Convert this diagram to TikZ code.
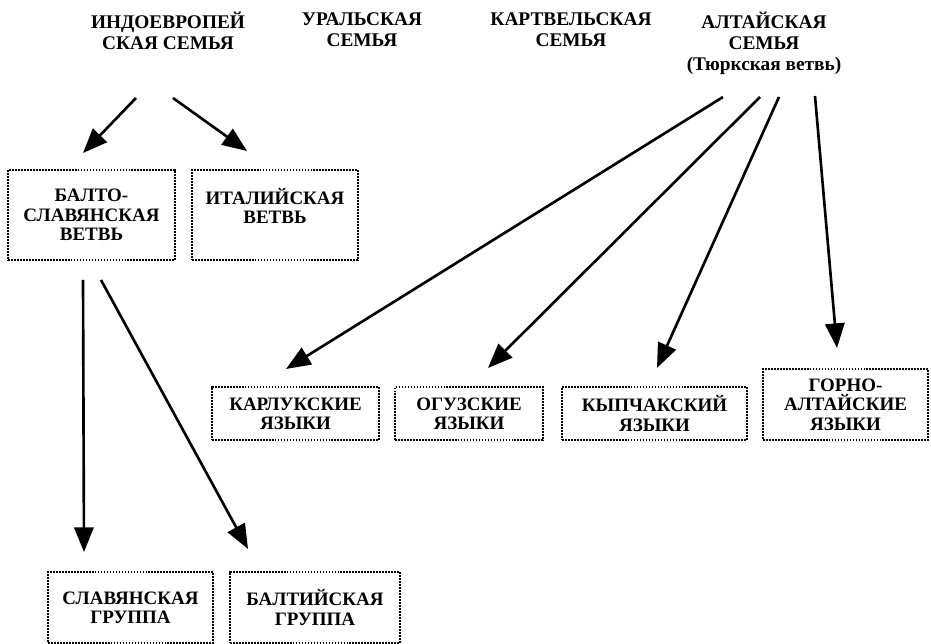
\documentclass[tikz,border=0pt]{standalone}
\usepackage{fontspec}
\setmainfont{Liberation Serif}
\usetikzlibrary{positioning, arrows.meta, calc}

\begin{document}
\begin{tikzpicture}[
    x=0.02cm, y=-0.02cm,    % 1 единица = 1 пиксель, ось y вниз
    line width=1.5pt,       % толстые стрелки
    >={Triangle[length=14pt, width=11pt]},
    family/.style={align=center, inner sep=0pt, anchor=north,
        font=\bfseries\fontsize{11}{12}\selectfont},
    box/.style={draw, line width=0.7pt, dash pattern=on 1pt off 0.7pt,
        align=center, inner sep=0pt,
        font=\bfseries\fontsize{10.8}{11}\selectfont}
]
    \useasboundingbox (0, 0) rectangle (931, 644);

    % --- 1. Языковые семьи (верхняя строка) ---
    \node [family] (ie) at (168, 11) {ИНДОЕВРОПЕЙ\\СКАЯ СЕМЬЯ};
    \node [family] (ural) at (362, 11) {УРАЛЬСКАЯ\\СЕМЬЯ};
    \node [family] (kartv) at (571, 11) {КАРТВЕЛЬСКАЯ\\СЕМЬЯ};
    \node [family] (altai) at (764, 11) {АЛТАЙСКАЯ\\СЕМЬЯ\\(Тюркская ветвь)};

    % --- 2. Ветви индоевропейской семьи ---
    \node [box, minimum width=3.34cm, minimum height=1.8cm] (bslav) at (91.5, 215)
        {БАЛТО-\\СЛАВЯНСКАЯ\\ВЕТВЬ};
    \node [box, minimum width=3.32cm, minimum height=1.8cm, text depth=0.36cm] (ital) at (275, 215)
        {ИТАЛИЙСКАЯ\\ВЕТВЬ};

    % --- 3. Группы тюркских языков ---
    \node [box, minimum width=3.34cm, minimum height=1.06cm] (karluk) at (295.5, 413.5)
        {КАРЛУКСКИЕ\\ЯЗЫКИ};
    \node [box, minimum width=2.96cm, minimum height=1.06cm] (oguz) at (469, 413.5)
        {ОГУЗСКИЕ\\ЯЗЫКИ};
    \node [box, minimum width=3.7cm, minimum height=1.06cm] (kypch) at (654.5, 413.5)
        {КЫПЧАКСКИЙ\\ЯЗЫКИ};
    \node [box, minimum width=3.3cm, minimum height=1.42cm] (gorno) at (845.5, 404.5)
        {ГОРНО-\\АЛТАЙСКИЕ\\ЯЗЫКИ};

    % --- 4. Славянская и балтийская группы ---
    \node [box, minimum width=3.3cm, minimum height=1.42cm] (slav) at (130.5, 607.5)
        {СЛАВЯНСКАЯ\\ГРУППА};
    \node [box, minimum width=3.4cm, minimum height=1.42cm] (balt) at (315, 607.5)
        {БАЛТИЙСКАЯ\\ГРУППА};

    % --- 5. Концы стрелок ---
    \coordinate (ie_a) at (136, 98);   \coordinate (ie_a_tip) at (83, 153);
    \coordinate (ie_b) at (173, 98);   \coordinate (ie_b_tip) at (247, 151);
    \coordinate (alt_a) at (723, 97);  \coordinate (alt_a_tip) at (286, 369);
    \coordinate (alt_b) at (760, 97);  \coordinate (alt_b_tip) at (488, 368);
    \coordinate (alt_c) at (779, 97);  \coordinate (alt_c_tip) at (657, 368);
    \coordinate (alt_d) at (815, 96);  \coordinate (alt_d_tip) at (837, 348);
    \coordinate (bs_a) at (83, 280);   \coordinate (bs_a_tip) at (84, 552);
    \coordinate (bs_b) at (101, 280);  \coordinate (bs_b_tip) at (248, 549);

    % --- 6. Стрелки ---
    \draw [->] (ie_a) -- (ie_a_tip);
    \draw [->] (ie_b) -- (ie_b_tip);
    \draw [->] (alt_a) -- (alt_a_tip);
    \draw [->] (alt_b) -- (alt_b_tip);
    \draw [->] (alt_c) -- (alt_c_tip);
    \draw [->] (alt_d) -- (alt_d_tip);
    \draw [->] (bs_a) -- (bs_a_tip);
    \draw [->] (bs_b) -- (bs_b_tip);

\end{tikzpicture}
\end{document}
